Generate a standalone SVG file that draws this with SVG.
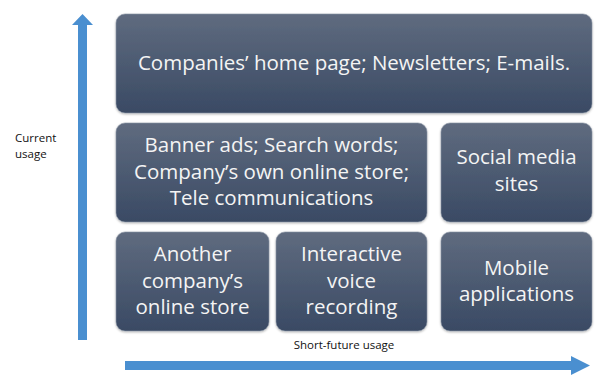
<svg xmlns="http://www.w3.org/2000/svg" width="597" height="383" viewBox="0 0 597 383">
  <defs>
    <linearGradient id="boxFill" x1="0" y1="0" x2="0" y2="1">
      <stop offset="0" stop-color="#5f6b7f"/>
      <stop offset="1" stop-color="#3a4a64"/>
    </linearGradient>
    <filter id="shadow" x="-5%" y="-5%" width="110%" height="115%">
      <feDropShadow dx="0" dy="1" stdDeviation="1" flood-color="#000" flood-opacity="0.3"/>
    </filter>
  </defs>
  <style>
    .box { fill: url(#boxFill); stroke: #8a94a4; stroke-width: 0.6; filter: url(#shadow); }
    .label { font-family: "Open Sans", "Liberation Sans", sans-serif; font-size: 20.5px; fill: #f4f4f4; text-anchor: middle; }
    .axis { font-family: "Open Sans", "Liberation Sans", sans-serif; font-size: 11.5px; fill: #111; }
    .arrow { fill: #4a8fd0; }
  </style>
  <rect width="597" height="383" fill="#ffffff"/>

  <g id="connectors">
    <!-- vertical axis: current usage -->
    <path class="arrow" d="M78 340 L78 25 L72 25 L82.5 14 L93 25 L87 25 L87 340 Z"/>
    <!-- horizontal axis: short-future usage -->
    <path class="arrow" d="M125 361 L571 361 L571 356 L590 365.5 L571 375 L571 370 L125 370 Z"/>
  </g>

  <g id="axis-current">
    <text class="axis" x="15" y="142">Current</text>
    <text class="axis" x="15" y="158">usage</text>
  </g>
  <g id="axis-future">
    <text class="axis" x="344" y="349" text-anchor="middle">Short-future usage</text>
  </g>

  <g id="node-home">
    <rect class="box" x="116" y="14" width="476" height="99" rx="9"/>
    <text class="label" x="354" y="70">Companies’ home page; Newsletters; E-mails.</text>
  </g>
  <g id="node-banner">
    <rect class="box" x="116" y="123" width="311" height="99" rx="9"/>
    <text class="label" x="271.5" y="152">Banner ads; Search words;</text>
    <text class="label" x="271.5" y="179">Company’s own online store;</text>
    <text class="label" x="271.5" y="205">Tele communications</text>
  </g>
  <g id="node-social">
    <rect class="box" x="441" y="123" width="151" height="99" rx="9"/>
    <text class="label" x="516.5" y="164">Social media</text>
    <text class="label" x="516.5" y="191">sites</text>
  </g>
  <g id="node-another">
    <rect class="box" x="116" y="232" width="153" height="99" rx="9"/>
    <text class="label" x="192.5" y="261">Another</text>
    <text class="label" x="192.5" y="288">company’s</text>
    <text class="label" x="192.5" y="314">online store</text>
  </g>
  <g id="node-ivr">
    <rect class="box" x="276" y="232" width="151" height="99" rx="9"/>
    <text class="label" x="351.5" y="261">Interactive</text>
    <text class="label" x="351.5" y="288">voice</text>
    <text class="label" x="351.5" y="314">recording</text>
  </g>
  <g id="node-mobile">
    <rect class="box" x="441" y="232" width="151" height="99" rx="9"/>
    <text class="label" x="516.5" y="275">Mobile</text>
    <text class="label" x="516.5" y="301">applications</text>
  </g>
</svg>
